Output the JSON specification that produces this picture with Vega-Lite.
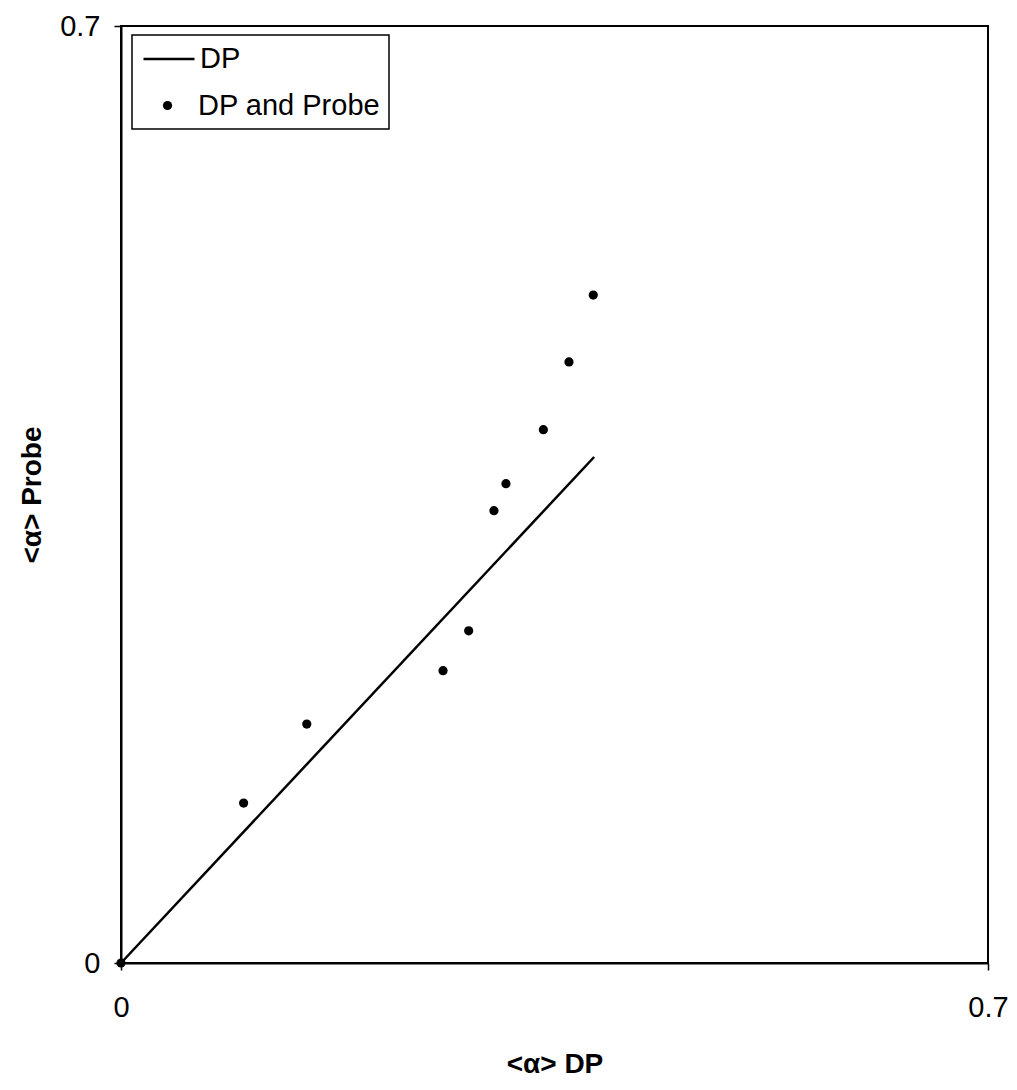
{
  "$schema": "https://vega.github.io/schema/vega-lite/v6.json",
  "autosize": {"type": "none"},
  "width": 867,
  "height": 937,
  "padding": {"left": 121, "top": 26, "right": 29, "bottom": 127},
  "background": "white",
  "config": {
    "font": "Liberation Sans",
    "view": {"stroke": "black", "strokeWidth": 2},
    "legend": {"cornerRadius": 0, "strokeWidth": 1.5, "labelFont": "Liberation Sans", "labelColor": "black", "labelFontSize": 29, "labelLimit": 500},
    "axis": {"grid": false, "domainColor": "black", "domainWidth": 2, "tickColor": "black", "tickSize": 7, "tickWidth": 1.5, "labelColor": "black", "labelFont": "Liberation Sans", "labelFontSize": 29, "titleFont": "Liberation Sans", "titleFontSize": 28, "titleFontWeight": "bold", "titleColor": "black"}
  },
  "datasets": {
    "line": [
      {"dp": 0, "probe": 0, "lseries": "DP"},
      {"dp": 0.382, "probe": 0.378, "lseries": "DP"}
    ],
    "pts": [
      {"dp": 0, "probe": 0, "series": "DP and Probe"},
      {"dp": 0.099, "probe": 0.1195, "series": "DP and Probe"},
      {"dp": 0.150, "probe": 0.1785, "series": "DP and Probe"},
      {"dp": 0.260, "probe": 0.2184, "series": "DP and Probe"},
      {"dp": 0.2807, "probe": 0.2482, "series": "DP and Probe"},
      {"dp": 0.3011, "probe": 0.3379, "series": "DP and Probe"},
      {"dp": 0.3108, "probe": 0.3581, "series": "DP and Probe"},
      {"dp": 0.341, "probe": 0.3984, "series": "DP and Probe"},
      {"dp": 0.3617, "probe": 0.449, "series": "DP and Probe"},
      {"dp": 0.3813, "probe": 0.499, "series": "DP and Probe"}
    ]
  },
  "encoding": {
    "x": {"field": "dp", "type": "quantitative", "scale": {"domain": [0, 0.7], "nice": false, "zero": false},
      "axis": {"values": [0, 0.7], "format": ".1~f", "title": "<α> DP", "labelPadding": 23, "titleBaseline": "alphabetic", "titleY": 109, "labelFlush": false}},
    "y": {"field": "probe", "type": "quantitative", "scale": {"domain": [0, 0.7], "nice": false, "zero": false},
      "axis": {"values": [0, 0.7], "format": ".1~f", "title": "<α> Probe", "labelPadding": 14, "titleBaseline": "alphabetic", "titleX": -81, "labelFlush": false}}
  },
  "layer": [
    {
      "data": {"name": "pts"},
      "mark": {"type": "point", "filled": true, "opacity": 1, "size": 85},
      "encoding": {
        "shape": {"field": "series", "type": "nominal", "scale": {"domain": ["DP and Probe"], "range": ["circle"]},
          "legend": {"title": " ", "titleFontSize": 29, "titlePadding": 19, "orient": "none", "legendX": 11, "legendY": 9, "padding": 8, "strokeColor": "black", "fillColor": "white", "symbolFillColor": "black", "symbolStrokeColor": "black", "symbolSize": 85, "symbolOffset": 13, "labelOffset": 16}},
        "color": {"value": "black"}
      }
    },
    {
      "data": {"name": "line"},
      "mark": {"type": "line", "strokeWidth": 2.5},
      "encoding": {
        "color": {"field": "lseries", "type": "nominal", "scale": {"domain": ["DP"], "range": ["black"]},
          "legend": {"title": null, "orient": "none", "legendX": 21, "legendY": 6, "padding": 0, "strokeColor": "transparent", "fillColor": "transparent", "symbolType": "stroke", "symbolSize": 2600, "symbolStrokeWidth": 2.5, "symbolStrokeColor": "black", "labelOffset": 4}}
      }
    }
  ]
}
